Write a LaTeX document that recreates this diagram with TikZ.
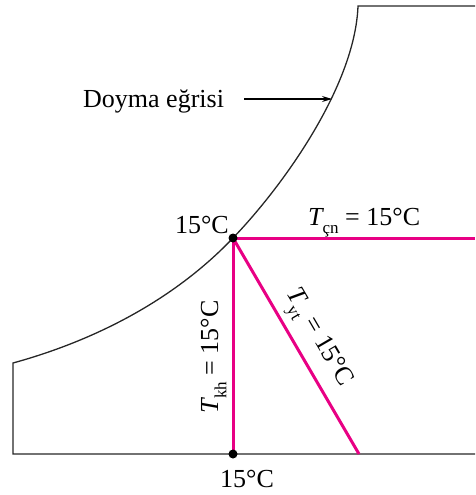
\documentclass[tikz,border=0pt]{standalone}
\usepackage{fontspec}
\setmainfont{Liberation Serif}
\usetikzlibrary{arrows.meta}
\definecolor{mag}{RGB}{232,0,132}
\newcommand\lowsub[1]{\kern-1.5pt\raisebox{-0.32em}{\fontsize{17}{17}\selectfont #1}}
\begin{document}
\begin{tikzpicture}[x=1pt,y=-1pt,
  outline/.style={draw=black!85,line width=1.3pt},
  tline/.style={draw=mag,line width=3pt},
  lbl/.style={inner sep=0pt,font=\fontsize{26}{30}\selectfont},
  dot/.style={circle,fill=black,inner sep=0pt,minimum size=9pt}]
\useasboundingbox (0,0) rectangle (475,495);
% coordinates
\coordinate (A) at (233,238);
\coordinate (B) at (233,454);
\coordinate (C) at (359,454);
\coordinate (D) at (475,238);
\coordinate (TL) at (358,6);
\coordinate (TR) at (475,6);
\coordinate (L) at (13,363);
\coordinate (BL) at (13,454);
\coordinate (BR) at (475,454);
% outline
\draw[outline] (TR) -- (TL)
  .. controls (355,86) and (283,186) .. (A)
  .. controls (173,301) and (93,341) .. (L)
  -- (BL) -- (BR);
% magenta lines
\draw[tline] (A) -- (D);
\draw[tline] (A) -- (B);
\draw[tline] (A) -- (C);
\node[dot] (pA) at (A) {};
\node[dot] (pB) at (B) {};
% labels
\node[lbl,anchor=base west] (doyma) at (83,107) {Doyma eğrisi};
\coordinate (tip) at (332,99);
\draw[line width=1.1pt,-{Stealth[length=10pt,width=6pt]}] (244,99) -- (tip);
\node[lbl,anchor=base east] (t1) at (229,233) {15°C};
\node[lbl,anchor=base west] (t2) at (308,225) {\textit{T}\lowsub{çn} = 15°C};
\node[lbl,anchor=base west] (t3) at (220,487) {15°C};
\node[lbl,anchor=base,rotate=90] (t4) at (218,357) {\textit{T}\lowsub{kh} = 15°C};
\node[lbl,anchor=center,rotate=-59.7] (t5) at (316,339) {\textit{T}\lowsub{yt} = 15°C};
\end{tikzpicture}
\end{document}
